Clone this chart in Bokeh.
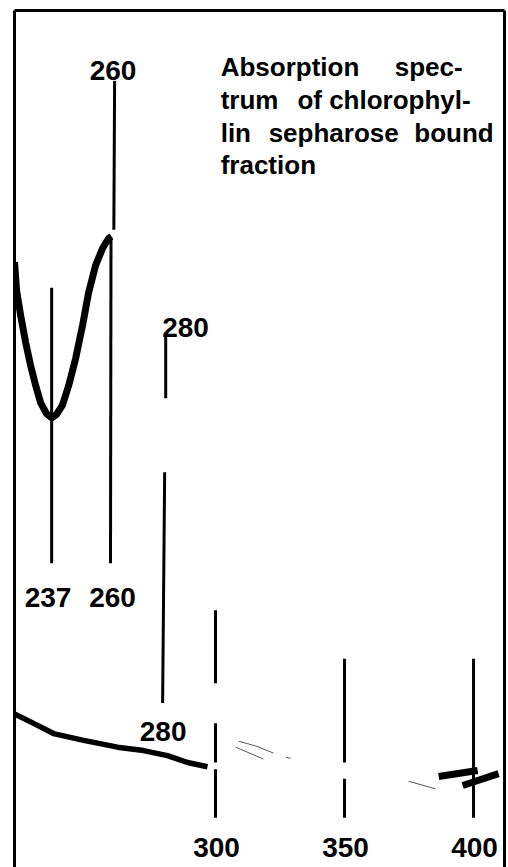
from bokeh.plotting import figure
from bokeh.models import Range1d, LinearAxis, FixedTicker
from bokeh.core.properties import value
from bokeh.embed import file_html
from bokeh.resources import INLINE

# ---- data (wavelength in nm, relative absorbance) ----
# high-sensitivity trace (upper)
upper_wl = [222.1, 222.9, 224.5, 226.4, 228.3, 230.3, 232.2, 234.5, 236.5, 238.4, 240.7,
            243.1, 245.8, 248.5, 250.8, 253.5, 256.2, 258.6, 259.7]
upper_abs = [0.702, 0.669, 0.639, 0.608, 0.581, 0.557, 0.537, 0.524, 0.519, 0.523, 0.534,
             0.557, 0.589, 0.628, 0.666, 0.698, 0.718, 0.730, 0.732]

# low-sensitivity trace (lower)
lower_wl = [222.1, 229.5, 237.2, 248.9, 262.0, 272.1, 281.4, 289.2, 296.9]
lower_abs = [0.171, 0.160, 0.148, 0.140, 0.132, 0.128, 0.122, 0.114, 0.109]

# faint trace fragments
faint_wl = [[309.0, 316.0, 322.5], [307.8, 318.6], [327.2, 329.1], [374.8, 385.3]]
faint_abs = [[0.139, 0.133, 0.125], [0.132, 0.118], [0.120, 0.119], [0.092, 0.083]]

# heavy trace fragments near 400 nm
heavy_wl = [[386.5, 401.6], [395.8, 409.7]]
heavy_abs = [[0.0975, 0.1046], [0.087, 0.101]]

# wavelength marker lines
mark_wl_top = [236.5, 260.9, 259.5, 280.7, 280.3, 300.0, 300.0, 300.0, 350.0, 350.0, 400.0]
mark_wl_bot = [236.5, 260.6, 259.3, 280.7, 279.5, 300.0, 300.0, 300.0, 350.0, 350.0, 400.0]
mark_abs_top = [0.672, 0.915, 0.731, 0.616, 0.455, 0.293, 0.160, 0.106, 0.236, 0.095, 0.236]
mark_abs_bot = [0.348, 0.740, 0.348, 0.542, 0.184, 0.207, 0.114, 0.049, 0.114, 0.049, 0.049]

# wavelength labels
label_text = ["260", "280", "237", "260", "280", "300", "350", "400"]
label_wl = [260.3, 288.4, 235.1, 260.1, 279.7, 300.4, 350.4, 400.4]
label_abs = [0.927, 0.625, 0.308, 0.308, 0.150, 0.014, 0.014, 0.014]

# caption words (justified block: left-set words and right-set line ends)
cap_left_words = ["Absorption", "trum", "lin", "sepharose", "fraction"]
cap_left_wl = [302.0, 302.0, 302.0, 320.6, 302.0]
cap_left_abs = [0.931, 0.892, 0.854, 0.854, 0.816]
cap_right_words = ["spec-", "of chlorophyl-", "bound"]
cap_right_wl = [395.8, 398.9, 407.8]
cap_right_abs = [0.931, 0.892, 0.854]

FONT = value("Liberation Sans")

p = figure(width=508, height=867, output_backend="svg", toolbar_location=None,
           x_axis_type=None, y_axis_type=None,
           x_range=Range1d(222.1, 412.0), y_range=Range1d(-0.0094, 0.9977),
           min_border_left=14, min_border_top=10, min_border_right=4, min_border_bottom=0)
p.outline_line_color = None
p.background_fill_color = "white"
p.border_fill_color = "white"

for loc in ["left", "above", "right"]:
    ax = LinearAxis(ticker=FixedTicker(ticks=[]), axis_line_width=3, axis_line_color="black",
                    major_tick_out=0, major_tick_in=0, minor_tick_out=0, minor_tick_in=0,
                    major_label_standoff=0, axis_label_standoff=0,
                    major_label_text_font_size="0px")
    p.add_layout(ax, loc)

# marker lines
p.segment(x0=mark_wl_top, y0=mark_abs_top, x1=mark_wl_bot, y1=mark_abs_bot,
          line_color="black", line_width=3)

# traces
p.line(upper_wl, upper_abs, line_color="black", line_width=7, line_join="round")
p.line(lower_wl, lower_abs, line_color="black", line_width=5.5, line_join="round")
p.multi_line(faint_wl, faint_abs, line_color="#555555", line_width=1)
p.multi_line(heavy_wl, heavy_abs, line_color="black", line_width=7)

# labels
p.text(x=label_wl, y=label_abs, text=label_text, text_font=FONT, text_font_style="bold",
       text_font_size="28px", text_align="center", text_baseline="alphabetic", text_color="black")
p.text(x=cap_left_wl, y=cap_left_abs, text=cap_left_words, text_font=FONT, text_font_style="bold",
       text_font_size="26px", text_align="left", text_baseline="alphabetic", text_color="black")
p.text(x=cap_right_wl, y=cap_right_abs, text=cap_right_words, text_font=FONT, text_font_style="bold",
       text_font_size="26px", text_align="right", text_baseline="alphabetic", text_color="black")

open("out.html", "w").write(file_html(p, INLINE))
